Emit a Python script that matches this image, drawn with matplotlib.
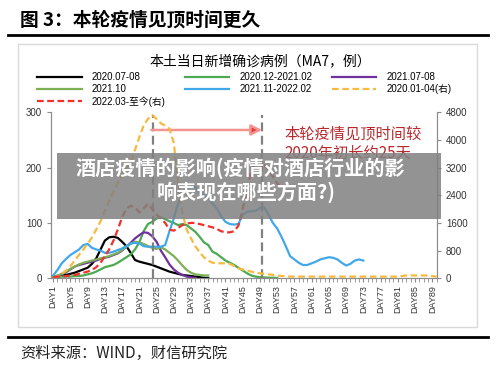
import matplotlib
matplotlib.use("Agg")
import matplotlib.pyplot as plt
from matplotlib.patches import Rectangle
from matplotlib.lines import Line2D
import numpy as np

plt.rcParams['font.family'] = ['Liberation Sans', 'Noto Sans CJK SC']

# 本土当日新增确诊病例 MA7, day index starts at DAY1
black_2020_0708 = [3, 4, 5, 6, 8, 10, 13, 16, 19, 26, 36, 52, 68, 74, 75, 73, 66, 58, 46, 33,
                   30, 28, 26, 24, 21, 18, 15, 12, 10, 8, 6, 5, 4, 3, 2, 1, 0.5]
green_2020_12 = [2, 2, 3, 3, 3, 4, 4, 5, 7, 9, 12, 16, 20, 22, 24, 28, 33, 38, 43, 52,
                 65, 85, 98, 102, 108, 110, 107, 103, 100, 96, 98, 96, 90, 84, 75, 65, 60, 48, 44, 38,
                 32, 28, 24, 19, 14, 9, 5, 3, 2, 1.5, 1, 1, 0.5]
purple_2021_0708 = [2, 4, 7, 11, 16, 21, 24, 26, 28, 30, 32, 35, 37, 39, 42, 45, 50, 57, 64, 72,
                    78, 83, 82, 76, 66, 50, 38, 25, 16, 10, 6, 3, 1.5, 0.5]
olive_2021_10 = [3, 5, 8, 12, 17, 21, 25, 28, 30, 32, 34, 36, 38, 40, 43, 46, 51, 57, 62, 66,
                 65, 62, 58, 55, 53, 56, 52, 46, 40, 32, 23, 15, 10, 7, 6, 5, 5]
blue_2021_11 = [5, 15, 27, 35, 42, 47, 52, 60, 62, 55, 52, 50, 46, 46, 48, 51, 54, 58, 63, 64,
                63, 58, 57, 57, 57, 57, 60, 85, 108, 135, 152, 162, 166, 165, 155, 150, 145, 135, 126, 112,
                102, 98, 97, 98, 115, 120, 121, 122, 127, 128, 115, 100, 90, 75, 58, 40, 34, 28, 24, 24,
                27, 30, 34, 36, 38, 37, 34, 28, 23, 26, 32, 34, 32]
# right axis series
red_2022_03 = np.array([2, 3, 3, 4, 5, 6, 8, 10, 12, 15, 20, 28, 40, 52, 68, 88, 110, 126, 131, 128,
                        119, 126, 135, 125, 115, 108, 100, 88, 86, 91, 96, 99, 100, 100, 98, 96, 94, 92, 89, 85,
                        83, 83, 85, 95, 125, 160, 195, 210, 215, 205, 195, 184, 172, 163]) * 16
yellow_2020_01 = np.array([1, 3, 8, 14, 22, 32, 42, 52, 62, 74, 88, 103, 122, 140, 156, 172, 186, 198, 210, 232,
                           255, 276, 288, 295, 288, 280, 276, 270, 245, 175, 118, 88, 72, 58, 47, 38, 32, 28, 27, 27,
                           27, 26, 22, 18, 16, 14, 12, 10, 9, 8, 7, 6, 5, 4,
                           4, 3, 3, 3, 3, 3, 3, 3, 3, 3, 3, 3, 3, 3, 3, 3, 3, 3, 3, 3,
                           3, 3, 3, 3, 3, 3, 3, 4, 5, 5, 5, 5, 5, 5, 4, 3]) * 16


def days(s):
    return np.arange(1, len(s) + 1)


fig = plt.figure(figsize=(5, 3.73), dpi=100)

# frame / header
fig.add_artist(Rectangle((18 / 500, 1 - 327 / 373), 459 / 500, 283 / 373, transform=fig.transFigure,
                         fill=False, ec='#D9D9D9', lw=1))
fig.add_artist(Line2D([8 / 500, 488 / 500], [1 - 34.5 / 373] * 2, color='black', lw=2))
fig.add_artist(Line2D([8 / 500, 488 / 500], [1 - 336.5 / 373] * 2, color='black', lw=2))
fig.text(20 / 500, 1 - 20 / 373, '图 3：本轮疫情见顶时间更久', fontsize=13.5, weight='bold',
         va='center', ha='left', family=['Noto Sans CJK SC'])
fig.text(20 / 500, 1 - 353 / 373, '资料来源：WIND，财信研究院', fontsize=11, va='center', ha='left',
         color='#222222', family=['Noto Sans CJK SC'])
fig.text(260 / 500, 1 - 61 / 373, '本土当日新增确诊病例（MA7，例）', fontsize=10, va='center', ha='center',
         family=['Noto Sans CJK SC'])

ax = fig.add_axes([0.102, 0.254, 0.772, 0.445])
ax2 = ax.twinx()

lw = 1.6
l1, = ax.plot(days(black_2020_0708), black_2020_0708, color='black', lw=lw, label='2020.07-08')
l2, = ax.plot(days(green_2020_12), green_2020_12, color='#4CAA52', lw=lw, label='2020.12-2021.02')
l3, = ax.plot(days(purple_2021_0708), purple_2021_0708, color='#7030A0', lw=lw, label='2021.07-08')
l4, = ax.plot(days(olive_2021_10), olive_2021_10, color='#7DAF55', lw=lw, label='2021.10')
l5, = ax.plot(days(blue_2021_11), blue_2021_11, color='#41A8EA', lw=lw, label='2021.11-2022.02')
l6, = ax2.plot(days(yellow_2020_01), yellow_2020_01, color='#F7BA3E', lw=lw, ls=(0, (3, 1.6)),
               label='2020.01-04(右)')
l7, = ax2.plot(days(red_2022_03), red_2022_03, color='#F0302A', lw=lw, ls=(0, (3, 1.6)),
               label='2022.03-至今(右)')

ax.vlines([24.2, 49.5], 0, 295, colors='#808080', linestyles=(0, (4, 2)), lw=1.6)
ax.annotate('', xy=(49.5, 268), xytext=(23.8, 268),
            arrowprops=dict(arrowstyle='-|>', ec='#F39490', fc='#E83A33', lw=1.8, mutation_scale=16,
                            shrinkA=0, shrinkB=0))
ax.text(54.6, 243, '本轮疫情见顶时间较\n2020年初长约25天', fontsize=11, color='#B8282C',
        va='center', ha='left', linespacing=1.15, family=['Noto Sans CJK SC'])

ax.set_xlim(0.5, 90.1)
ax.set_ylim(0, 300)
ax2.set_ylim(0, 4800)
ax.set_yticks([0, 100, 200, 300])
ax2.set_yticks(np.arange(0, 4801, 800))
ax.set_xticks(np.arange(1, 90, 4))
ax.set_xticklabels(['DAY%d' % d for d in range(1, 90, 4)], rotation=90)
ax.set_xticks(np.arange(1, 91), minor=True)

for a in (ax, ax2):
    for s in a.spines.values():
        s.set_color('#8C8C8C')
    a.spines['top'].set_visible(False)
ax.tick_params(axis='both', which='both', colors='#8C8C8C', labelcolor='#333333', labelsize=7, length=3)
ax.tick_params(axis='x', which='major', labelsize=6.5, pad=2)
ax2.tick_params(axis='y', colors='#8C8C8C', labelcolor='#333333', labelsize=7, length=3)

handles = [l1, l4, l7, l2, l5, l3, l6]
fig.legend(handles=handles, labels=[h.get_label() for h in handles], ncol=3, frameon=False,
           loc='upper left', bbox_to_anchor=(37 / 500, 1 - 72 / 373), fontsize=7,
           handlelength=4.6, handletextpad=1.0, columnspacing=2.0, labelspacing=0.2, borderpad=0,
           borderaxespad=0)

# watermark banner
fig.add_artist(Rectangle((57 / 500, 1 - 219 / 373), 384 / 500, 66 / 373, transform=fig.transFigure,
                         color='#808080', alpha=0.85, zorder=10, lw=0))
fig.text(240 / 500, 1 - 168 / 373, '酒店疫情的影响(疫情对酒店行业的影', fontsize=14.5, color='white',
         weight='bold', ha='center', va='center', zorder=11, family=['Noto Sans CJK SC'])
fig.text(246 / 500, 1 - 192 / 373, '响表现在哪些方面?)', fontsize=14.5, color='white',
         weight='bold', ha='center', va='center', zorder=11, family=['Noto Sans CJK SC'])

fig.savefig('out.png', dpi=100)
